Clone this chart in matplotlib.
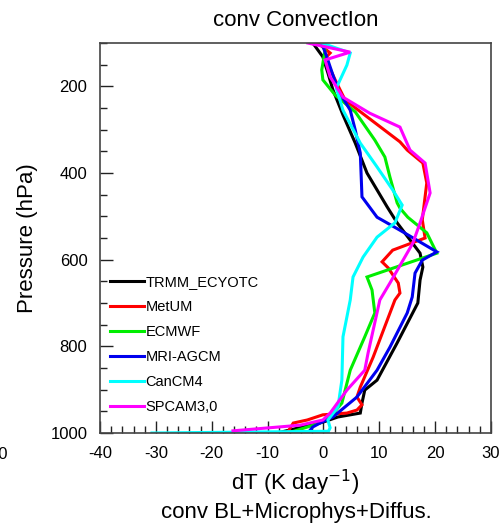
import matplotlib
matplotlib.use("Agg")
import matplotlib.pyplot as plt
from matplotlib.ticker import MultipleLocator

plt.rcParams['font.family'] = ['Liberation Sans', 'DejaVu Sans']
plt.rcParams['axes.unicode_minus'] = False

# dT (K/day) profiles against pressure (hPa), one pair of lists per dataset
trmm_p = [100, 116, 132, 169, 208, 266, 331, 400, 478, 515, 585, 617, 647, 700,
          792, 878, 901, 931, 954, 963, 975, 1000]
trmm_dt = [-1.9, -1.0, -0.1, 0.8, 1.7, 3.5, 5.7, 7.8, 11.4, 13.2, 17.3, 17.8, 17.3, 16.9,
           13.2, 9.6, 7.4, 6.9, 6.6, 2.6, -0.1, -8.3]

metum_p = [100, 123, 135, 185, 232, 328, 347, 377, 423, 508, 550, 578, 605, 619, 654,
           677, 693, 825, 894, 917, 935, 947, 954, 958, 970, 977, 1000]
metum_dt = [-1.0, 1.2, 0.3, 2.1, 3.9, 13.7, 15.0, 17.8, 18.5, 17.7, 18.2, 12.4, 10.5, 11.6, 13.4,
            13.7, 12.8, 8.9, 6.6, 6.0, 6.9, 6.0, 4.2, -0.1, -2.9, -5.4, -6.5]

ecmwf_p = [100, 116, 162, 185, 220, 259, 324, 363, 409, 469, 481, 502, 538, 585, 640,
           670, 723, 778, 855, 931, 963, 977, 1000]
ecmwf_dt = [-0.6, 0.3, -0.3, -0.1, 2.1, 5.7, 9.2, 11.0, 11.9, 13.2, 13.7, 15.1, 18.5, 20.3, 7.8,
            8.7, 9.2, 7.4, 4.8, 3.3, 1.2, -0.6, -6.3]

mri_p = [100, 132, 155, 208, 255, 301, 354, 455, 502, 532, 582, 601, 631, 686, 723,
         802, 855, 917, 963, 977, 986, 1000]
mri_dt = [-0.3, 0.6, 1.2, 2.6, 4.8, 5.7, 6.6, 6.9, 9.6, 13.7, 20.3, 17.7, 16.4, 15.9, 15.0,
          11.9, 9.6, 6.0, 1.7, -0.6, -1.9, -2.8]

cancm4_p = [100, 123, 151, 204, 255, 331, 386, 439, 474, 515, 548, 594, 640, 693, 778,
            878, 940, 970, 988, 996, 1000]
cancm4_dt = [-0.3, 4.8, 4.2, 2.3, 3.5, 6.6, 9.6, 12.4, 14.1, 12.8, 9.6, 7.1, 5.3, 4.8, 3.5,
             3.3, 2.6, 0.8, 1.2, 0.9, -30.7]

spcam_p = [100, 121, 139, 178, 225, 262, 294, 347, 377, 446, 515, 562, 654, 693, 815,
           855, 901, 954, 970, 982, 995]
spcam_dt = [-2.8, 4.8, 0.3, 1.2, 3.5, 8.3, 13.7, 15.5, 18.2, 19.1, 17.3, 16.0, 11.9, 10.1, 8.0,
            7.4, 4.2, 1.2, -0.1, -4.2, -16.2]

names = ["TRMM_ECYOTC", "MetUM", "ECMWF", "MRI-AGCM", "CanCM4", "SPCAM3,0"]
colors = ["black", "#ff0000", "#00ee00", "#0000ee", "#00ffff", "#ff00ff"]
profiles = [(trmm_dt, trmm_p), (metum_dt, metum_p), (ecmwf_dt, ecmwf_p),
            (mri_dt, mri_p), (cancm4_dt, cancm4_p), (spcam_dt, spcam_p)]

fig = plt.figure(figsize=(5.0, 5.26), dpi=100)
ax = fig.add_axes([0.2, 0.1768, 0.782, 0.7414])

for (dt, p), name, c in zip(profiles, names, colors):
    ax.plot(dt, p, color=c, lw=2.2, label=name, solid_joinstyle='miter')

ax.set_xlim(-40, 30)
ax.set_ylim(1000, 100)
ax.xaxis.set_major_locator(MultipleLocator(10))
ax.xaxis.set_minor_locator(MultipleLocator(2))
ax.yaxis.set_major_locator(MultipleLocator(200))
ax.yaxis.set_minor_locator(MultipleLocator(50))
ax.tick_params(which='both', direction='in', top=False, right=False,
               labelsize=12, color='#222222', width=1)
ax.tick_params(which='major', length=9, pad=9)
ax.tick_params(which='minor', length=5)
for s in ax.spines.values():
    s.set_color('#444444')
    s.set_linewidth(1.2)

ax.set_title("conv ConvectIon", fontsize=16, pad=12)
ax.set_xlabel("dT (K day$^{-1}$)", fontsize=16, labelpad=5)
ax.set_ylabel("Pressure (hPa)", fontsize=16, labelpad=9)
fig.text(0.592, 0.025, "conv BL+Microphys+Diffus.", fontsize=16, ha='center', va='center')
fig.text(0.016, 0.135, "30", fontsize=12, ha='right', va='center')

ax.legend(loc='upper left', bbox_to_anchor=(0.0256, 0.405), frameon=False,
          fontsize=10.5, handlelength=2.3, handletextpad=0.15, labelspacing=0.75,
          borderpad=0, borderaxespad=0)

fig.savefig("out.png", dpi=100)
